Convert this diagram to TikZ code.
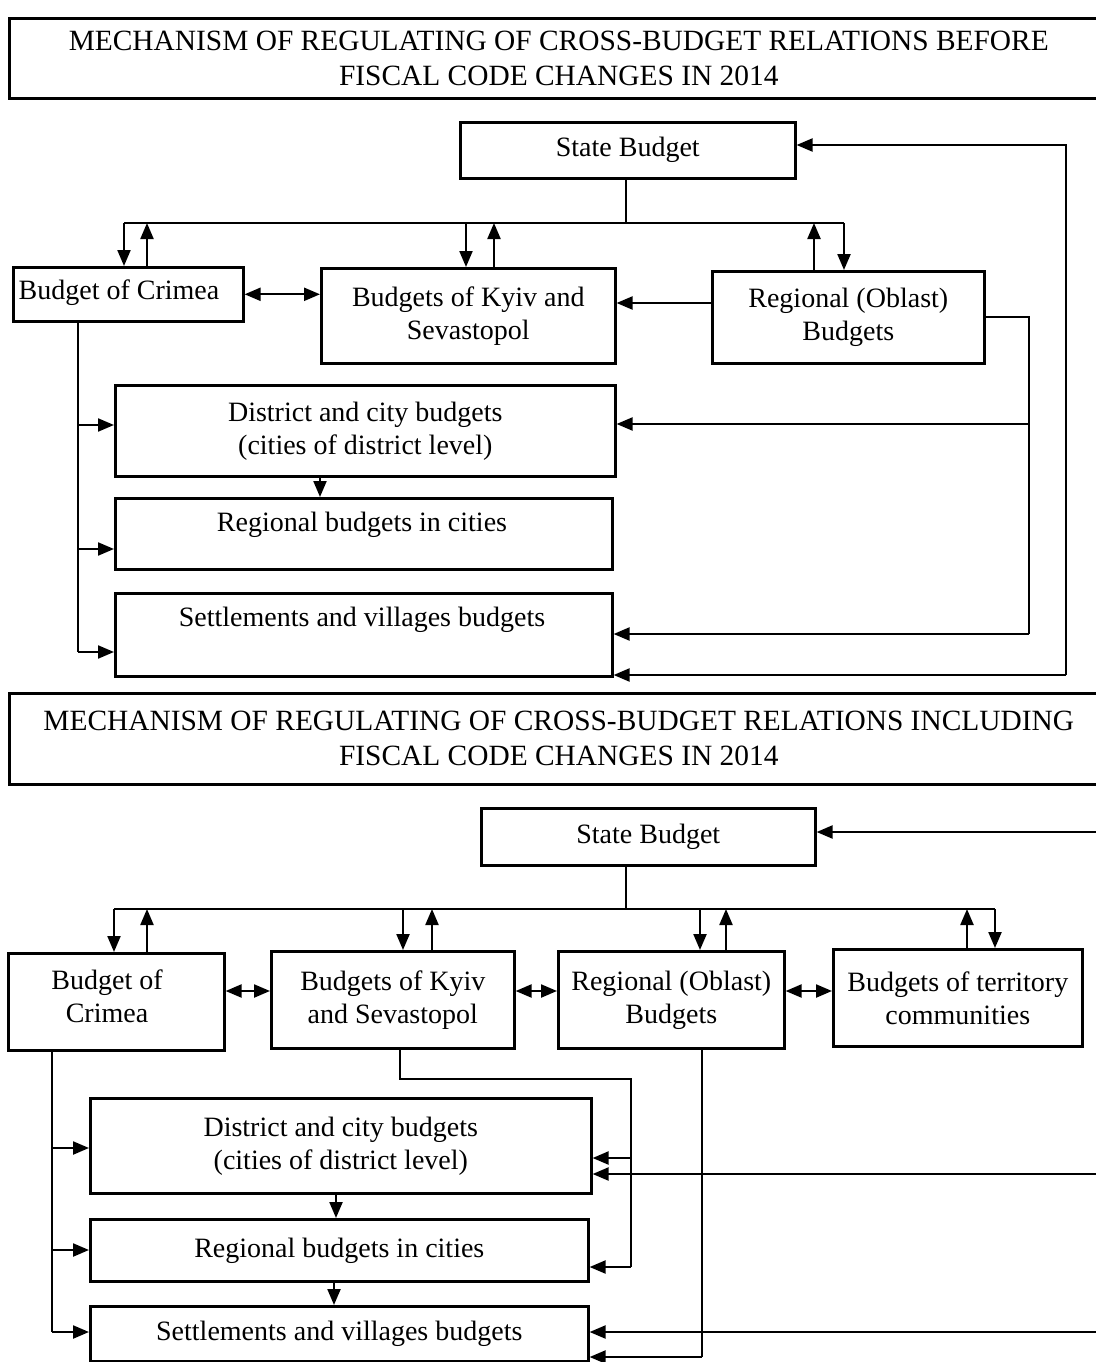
\documentclass[tikz,border=0pt]{standalone}
\usepackage{fontspec}
\setmainfont{Liberation Serif}
\usetikzlibrary{arrows.meta}
\begin{document}
\begin{tikzpicture}[x=1pt,y=-1pt,
  box/.style={draw, line width=2.6pt, inner sep=0pt, align=center, anchor=north west, font=\fontsize{28}{33}\selectfont},
  ttl/.style={draw, line width=2.6pt, inner sep=0pt, align=center, anchor=north west, font=\fontsize{29.4}{35}\selectfont},
  txt/.style={inner sep=0pt, align=center, font=\fontsize{28}{33}\selectfont},
  con/.style={line width=2.2pt},
  >={Triangle[length=16pt,width=13pt]}]
\useasboundingbox (0,0) rectangle (1095,1362);

% ================= TOP =================
\node[ttl, minimum width=1099pt, minimum height=80pt] (t1) at (8,17) {MECHANISM OF REGULATING OF CROSS-BUDGET RELATIONS BEFORE\\FISCAL CODE CHANGES IN 2014};
\node[box, minimum width=335pt, minimum height=56pt] (sb1) at (459,121) {State Budget};
\node[box, minimum width=230pt, minimum height=54pt] (cr1) at (12,266) {};
\node[txt] (cr1t) at (119,293) {Budget of Crimea};
\node[box, minimum width=294pt, minimum height=95pt] (ky1) at (320,267) {Budgets of Kyiv and\\Sevastopol};
\node[box, minimum width=272pt, minimum height=92pt] (rg1) at (711,270) {Regional (Oblast)\\Budgets};
\node[box, minimum width=500pt, minimum height=91pt] (di1) at (114,384) {District and city budgets\\(cities of district level)};
\node[box, minimum width=497pt, minimum height=71pt] (rc1) at (114,497) {};
\node[txt] (rc1t) at (362,525) {Regional budgets in cities};
\node[box, minimum width=497pt, minimum height=83pt] (sv1) at (114,592) {};
\node[txt] (sv1t) at (362,620) {Settlements and villages budgets};

\coordinate (bus1) at (626,223);
\coordinate (b1a) at (124,223);
\coordinate (b1b) at (147,223);
\coordinate (b1c) at (466,223);
\coordinate (b1d) at (494,223);
\coordinate (b1e) at (814,223);
\coordinate (b1f) at (844,223);
\draw[con] (sb1.south -| bus1) -- (bus1);
\draw[con] (b1a) -- (b1f);
\draw[con,->] (b1a) -- (b1a |- cr1.north);
\draw[con,->] (b1b |- cr1.north) -- (b1b);
\draw[con,->] (b1c) -- (b1c |- ky1.north);
\draw[con,->] (b1d |- ky1.north) -- (b1d);
\draw[con,->] (b1e |- rg1.north) -- (b1e);
\draw[con,->] (b1f) -- (b1f |- rg1.north);
\draw[con,<->] (cr1.east) -- (ky1.west |- cr1.east);
\coordinate (r1) at (711,303);
\draw[con,->] (rg1.west |- r1) -- (ky1.east |- r1);
% regional right line
\coordinate (rgA) at (1029,317);
\coordinate (rgB) at (1029,424);
\coordinate (rgC) at (1029,634);
\draw[con] (rg1.east |- rgA) -- (rgA) -- (rgC);
\draw[con,->] (rgC) -- (sv1.east |- rgC);
\draw[con,->] (rgB) -- (di1.east |- rgB);
% outer line
\coordinate (oA) at (1066,145);
\coordinate (oB) at (1066,675);
\draw[con,->] (oB) -- (oA) -- (sb1.east |- oA);
\draw[con,->] (oB) -- (sv1.east |- oB);
% crimea line
\coordinate (cA) at (78,320);
\coordinate (cB) at (78,425);
\coordinate (cC) at (78,549);
\coordinate (cD) at (78,652);
\draw[con] (cA) -- (cD);
\draw[con,->] (cB) -- (di1.west |- cB);
\draw[con,->] (cC) -- (rc1.west |- cC);
\draw[con,->] (cD) -- (sv1.west |- cD);
\coordinate (dA) at (320,475);
\draw[con,->] (dA) -- (dA |- rc1.north);

% ================= BOTTOM =================
\node[ttl, minimum width=1099pt, minimum height=91pt] (t2) at (8,692) {MECHANISM OF REGULATING OF CROSS-BUDGET RELATIONS INCLUDING\\FISCAL CODE CHANGES IN 2014};
\node[box, minimum width=334pt, minimum height=57pt] (sb2) at (480,807) {State Budget};
\node[box, minimum width=216pt, minimum height=97pt] (cr2) at (7,952) {};
\node[txt] (cr2t) at (107,996) {Budget of\\Crimea};
\node[box, minimum width=243pt, minimum height=97pt] (ky2) at (270,950) {Budgets of Kyiv\\and Sevastopol};
\node[box, minimum width=226pt, minimum height=97pt] (rg2) at (557,950) {Regional (Oblast)\\Budgets};
\node[box, minimum width=249pt, minimum height=97pt] (tc2) at (832,948) {Budgets of territory\\communities};
\node[box, minimum width=501pt, minimum height=95pt] (di2) at (89,1097) {District and city budgets\\(cities of district level)};
\node[box, minimum width=498pt, minimum height=62pt] (rc2) at (89,1218) {Regional budgets in cities};
\node[box, minimum width=498pt, minimum height=55pt] (sv2) at (89,1305) {Settlements and villages budgets};

\coordinate (e1) at (1100,832);
\draw[con,->] (e1) -- (sb2.east |- e1);
\coordinate (bus2) at (626,909);
\coordinate (b2a) at (114,909);
\coordinate (b2b) at (147,909);
\coordinate (b2c) at (403,909);
\coordinate (b2d) at (432,909);
\coordinate (b2e) at (700,909);
\coordinate (b2f) at (726,909);
\coordinate (b2g) at (967,909);
\coordinate (b2h) at (995,909);
\draw[con] (sb2.south -| bus2) -- (bus2);
\draw[con] (b2a) -- (b2h);
\draw[con,->] (b2a) -- (b2a |- cr2.north);
\draw[con,->] (b2b |- cr2.north) -- (b2b);
\draw[con,->] (b2c) -- (b2c |- ky2.north);
\draw[con,->] (b2d |- ky2.north) -- (b2d);
\draw[con,->] (b2e) -- (b2e |- rg2.north);
\draw[con,->] (b2f |- rg2.north) -- (b2f);
\draw[con,->] (b2g |- tc2.north) -- (b2g);
\draw[con,->] (b2h) -- (b2h |- tc2.north);
\coordinate (d2) at (0,991);
\draw[con,<->] (cr2.east |- d2) -- (ky2.west |- d2);
\draw[con,<->] (ky2.east |- d2) -- (rg2.west |- d2);
\draw[con,<->] (rg2.east |- d2) -- (tc2.west |- d2);
% crimea line
\coordinate (c2A) at (52,1049);
\coordinate (c2B) at (52,1148);
\coordinate (c2C) at (52,1250);
\coordinate (c2D) at (52,1332);
\draw[con] (c2A) -- (c2D);
\draw[con,->] (c2B) -- (di2.west |- c2B);
\draw[con,->] (c2C) -- (rc2.west |- c2C);
\draw[con,->] (c2D) -- (sv2.west |- c2D);
% kyiv line
\coordinate (k2A) at (400,1047);
\coordinate (k2B) at (400,1079);
\coordinate (k2C) at (631,1079);
\coordinate (k2D) at (631,1158);
\coordinate (k2E) at (631,1267);
\draw[con] (k2A) -- (k2B) -- (k2C) -- (k2D);
\draw[line width=1.4pt] (k2D) -- (k2E);
\draw[con,->] (k2D) -- (di2.east |- k2D);
\draw[con,->] (k2E) -- (rc2.east |- k2E);
% right edge lines
\coordinate (e2) at (1100,1174);
\draw[con,->] (e2) -- (di2.east |- e2);
\coordinate (e3) at (1100,1332);
\draw[con,->] (e3) -- (sv2.east |- e3);
% regional line
\coordinate (g2A) at (702,1047);
\coordinate (g2B) at (702,1357);
\draw[con] (g2A) -- (g2B);
\draw[con,->] (g2B) -- (sv2.east |- g2B);
% vertical arrows between boxes
\coordinate (v1) at (336,1192);
\draw[con,->] (v1) -- (v1 |- rc2.north);
\coordinate (v2) at (334,1280);
\draw[con,->] (v2) -- (v2 |- sv2.north);
\end{tikzpicture}
\end{document}
